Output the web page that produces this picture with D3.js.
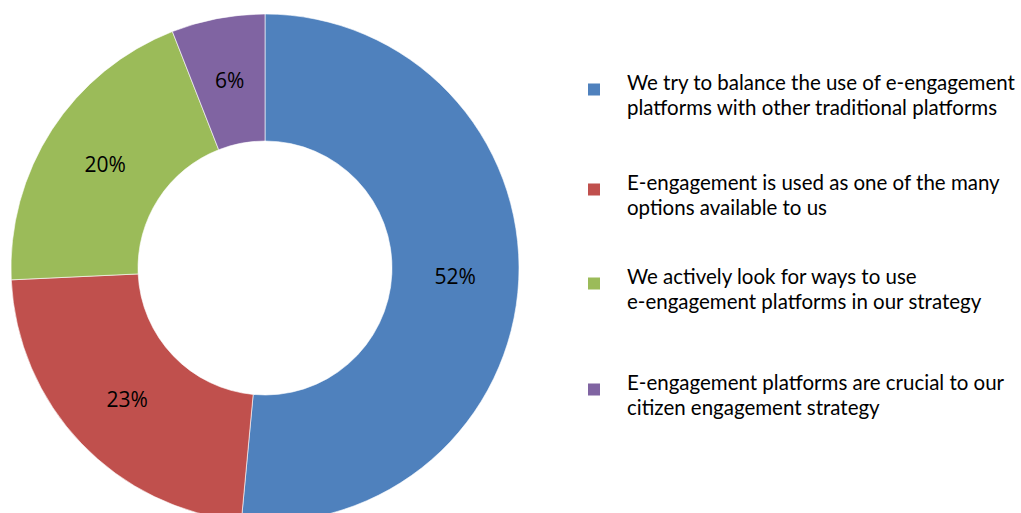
<!DOCTYPE html>
<html>
<head>
<meta charset="utf-8">
<script src="https://cdn.jsdelivr.net/npm/d3@7"></script>
<style>
  html, body { margin: 0; padding: 0; background: #ffffff; }
  svg { display: block; }
</style>
</head>
<body>
<svg id="chart" width="1021" height="513"></svg>
<script>
// Survey responses: how e-engagement platforms are used
const categories = [
  "We try to balance the use of e-engagement platforms with other traditional platforms",
  "E-engagement is used as one of the many options available to us",
  "We actively look for ways to use e-engagement platforms in our strategy",
  "E-engagement platforms are crucial to our citizen engagement strategy"
];
const legendLines = [
  ["We try to balance the use of e-engagement", "platforms with other traditional platforms"],
  ["E-engagement is used as one of the many", "options available to us"],
  ["We actively look for ways to use", "e-engagement platforms in our strategy"],
  ["E-engagement platforms are crucial to our", "citizen engagement strategy"]
];
const values = [52, 23, 20, 6];
const colors = ["#4f81bd", "#c0504d", "#9bbb59", "#8064a2"];

const svg = d3.select("#chart");

// Donut geometry
const cx = 265, cy = 268, outerR = 254, innerR = 127;

const pie = d3.pie().sort(null).value(d => d.value);
const arcs = pie(values.map((v, i) => ({ value: v, name: categories[i], color: colors[i] })));

const arc = d3.arc().innerRadius(innerR).outerRadius(outerR);
const midR = (innerR + outerR) / 2;
const labelArc = d3.arc().innerRadius(midR).outerRadius(midR);

const g = svg.append("g").attr("transform", `translate(${cx},${cy})`);

g.selectAll("path.slice")
  .data(arcs)
  .join("path")
  .attr("class", "slice")
  .attr("d", arc)
  .attr("fill", d => d.data.color)
  .attr("stroke", "#ffffff")
  .attr("stroke-width", 0.6);

g.selectAll("text.pct")
  .data(arcs)
  .join("text")
  .attr("class", "pct")
  .attr("transform", d => `translate(${labelArc.centroid(d)})`)
  .attr("text-anchor", "middle")
  .attr("dy", "0.36em")
  .attr("font-family", "'Open Sans', 'Noto Sans', sans-serif")
  .attr("font-size", 21)
  .attr("fill", "#000000")
  .text(d => d.data.value + "%");

// Legend
const legendX = 588, textX = 627, lineGap = 25;
const legendBase = [90, 190, 284, 390];

const legend = svg.append("g").attr("class", "legend");
const items = legend.selectAll("g.item")
  .data(legendLines)
  .join("g")
  .attr("class", "item");

items.append("rect")
  .attr("x", legendX)
  .attr("y", (d, i) => legendBase[i] + lineGap / 2 - 19)
  .attr("width", 12)
  .attr("height", 12)
  .attr("fill", (d, i) => colors[i]);

const texts = items.append("text")
  .attr("font-family", "Lato, 'Noto Sans', sans-serif")
  .attr("font-size", 21)
  .attr("fill", "#000000");

texts.selectAll("tspan")
  .data((d, i) => d.map((line, j) => ({ line, y: legendBase[i] + j * lineGap })))
  .join("tspan")
  .attr("x", textX)
  .attr("y", d => d.y)
  .text(d => d.line);

// Fit legend font so the longest line spans the legend column
let widest = 0;
texts.selectAll("tspan").each(function () {
  widest = Math.max(widest, this.getComputedTextLength());
});
const targetWidth = 388;
if (widest > 0) {
  const fs = 21 * targetWidth / widest;
  texts.attr("font-size", fs.toFixed(2));
}
</script>
</body>
</html>
